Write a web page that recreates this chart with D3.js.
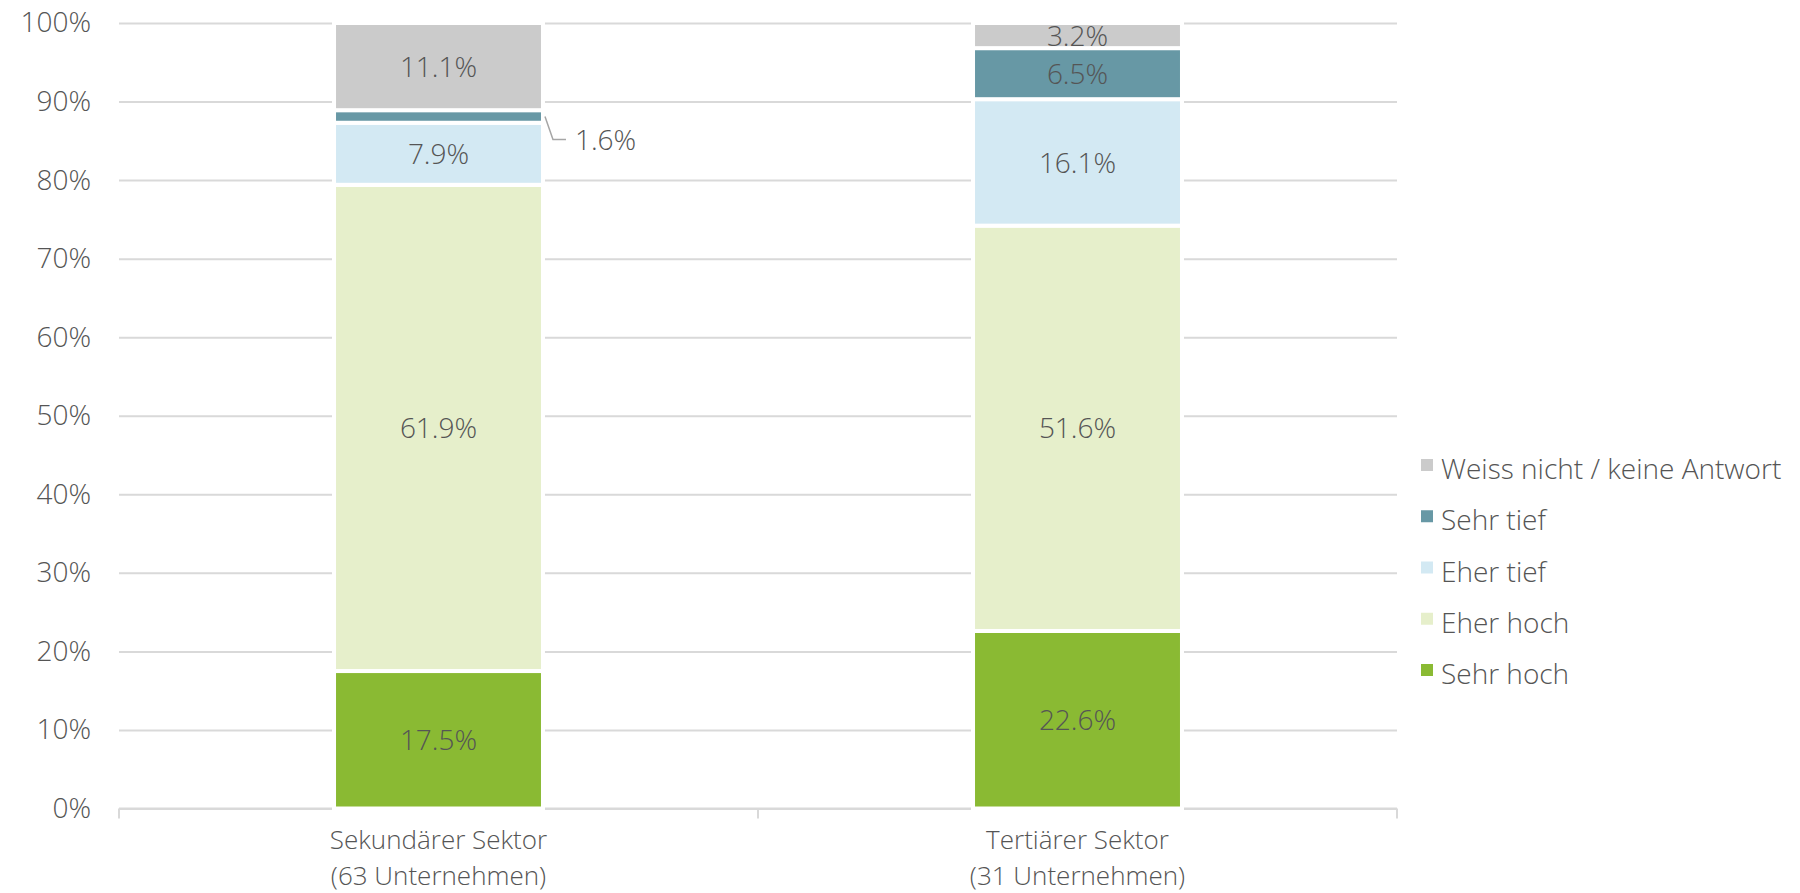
<!DOCTYPE html>
<html>
<head>
<meta charset="utf-8">
<script src="https://cdn.jsdelivr.net/npm/d3@7"></script>
<style>
  body { margin: 0; background: #fff; }
  text { font-family: "Open Sans", sans-serif; font-weight: 300; fill: #555555; }
</style>
</head>
<body>
<div id="chart"></div>
<script>
// categories (each label on two lines)
var categories = ['Sekundärer Sektor', 'Tertiärer Sektor'];
var categorySub = ['(63 Unternehmen)', '(31 Unternehmen)'];

// series, bottom to top
var seriesNames = ['Sehr hoch', 'Eher hoch', 'Eher tief', 'Sehr tief', 'Weiss nicht / keine Antwort'];
var seriesColors = ['#8aba33', '#e6efcb', '#d3e9f3', '#6798a5', '#cbcbcb'];
var sehrHoch = [17.5, 22.6];
var eherHoch = [61.9, 51.6];
var eherTief = [7.9, 16.1];
var sehrTief = [1.6, 6.5];
var weissNicht = [11.1, 3.2];

var yTicks = [0, 10, 20, 30, 40, 50, 60, 70, 80, 90, 100];

var params = {
	width: 1800,
	height: 893,
	left: 119,
	right: 1397,
	top: 23,
	bottom: 808.5,
	fontSize: '28px'
};

//build the table for d3.stack
var seriesValues = [sehrHoch, eherHoch, eherTief, sehrTief, weissNicht];
var table = categories.map(function(c, i){
	var row = {cat: c};
	seriesNames.forEach(function(s, j){ row[s] = seriesValues[j][i]; });
	return row;
});

var svg = d3.select('#chart').append('svg')
	.attr('width', params.width)
	.attr('height', params.height);

var x = d3.scaleBand()
	.domain(categories)
	.range([params.left, params.right])
	.paddingInner(0.673)
	.paddingOuter(0.3365);

var y = d3.scaleLinear()
	.domain([0, 100])
	.range([params.bottom, params.top]);

// gridlines + y labels
var yAxis = svg.append('g')
	.attr('transform', 'translate(' + params.left + ',0)')
	.call(d3.axisLeft(y).tickValues(yTicks).tickSize(-(params.right - params.left)).tickFormat(function(d){ return d + '%'; }));
yAxis.select('.domain').remove();
yAxis.selectAll('.tick line').attr('stroke', '#d9d9d9').attr('stroke-width', 2);
yAxis.selectAll('.tick text')
	.attr('x', -28)
	.style('font-size', params.fontSize)
	.attr('fill', '#555555');

// x axis with tick marks between categories
var xAxis = svg.append('g')
	.attr('transform', 'translate(0,' + params.bottom + ')');
xAxis.append('line')
	.attr('x1', params.left).attr('x2', params.right)
	.attr('stroke', '#d9d9d9').attr('stroke-width', 2);
var step = x.step();
var tickXs = [params.left].concat(categories.map(function(c){ return x(c) + x.bandwidth() / 2 + step / 2; }));
xAxis.selectAll('.sep')
	.data(tickXs)
	.enter()
	.append('line')
		.attr('x1', function(d){ return d; })
		.attr('x2', function(d){ return d; })
		.attr('y1', 0).attr('y2', 10)
		.attr('stroke', '#d9d9d9').attr('stroke-width', 2);

var catLabels = xAxis.selectAll('.cat')
	.data(categories)
	.enter()
	.append('text')
		.attr('text-anchor', 'middle')
		.attr('x', function(d){ return x(d) + x.bandwidth() / 2; })
		.style('font-size', '26px');
catLabels.append('tspan').attr('x', function(d){ return x(d) + x.bandwidth() / 2; }).attr('y', 40.5).text(function(d){ return d; });
catLabels.append('tspan').attr('x', function(d){ return x(d) + x.bandwidth() / 2; }).attr('y', 76.5).text(function(d, i){ return categorySub[i]; });

// stacked bars
var stack = d3.stack().keys(seriesNames)(table);

var layers = svg.selectAll('.layer')
	.data(stack)
	.enter()
	.append('g')
		.attr('fill', function(d, i){ return seriesColors[i]; });

layers.selectAll('rect')
	.data(function(d){ return d; })
	.enter()
	.append('rect')
		.attr('x', function(d){ return x(d.data.cat); })
		.attr('width', x.bandwidth())
		.attr('y', function(d){ return y(d[1]); })
		.attr('height', function(d){ return y(d[0]) - y(d[1]); })
		.attr('stroke', '#fff')
		.attr('stroke-width', 4);

// value labels
layers.each(function(layer){
	var g = d3.select(this);
	layer.forEach(function(d){
		var v = d[1] - d[0];
		var cx = x(d.data.cat) + x.bandwidth() / 2;
		var cy = (y(d[0]) + y(d[1])) / 2;
		if (v >= 2){
			g.append('text')
				.attr('x', cx).attr('y', cy)
				.attr('dy', '0.36em')
				.attr('text-anchor', 'middle')
				.style('font-size', params.fontSize)
				.text(v.toFixed(1) + '%');
		} else {
			//small slice: label outside with a leader line
			var xr = x(d.data.cat) + x.bandwidth();
			g.append('polyline')
				.attr('points', [[xr + 2, cy], [xr + 10, cy + 23], [xr + 23, cy + 23]].join(' '))
				.attr('fill', 'none')
				.attr('stroke', '#a6a6a6')
				.attr('stroke-width', 1.5);
			g.append('text')
				.attr('x', xr + 32).attr('y', cy + 23)
				.attr('dy', '0.36em')
				.style('font-size', params.fontSize)
				.text(v.toFixed(1) + '%');
		}
	});
});

// legend, top item is the last series
var legendItems = seriesNames.slice().reverse();
var legend = svg.append('g')
	.attr('transform', 'translate(1421,459)');
var item = legend.selectAll('.item')
	.data(legendItems)
	.enter()
	.append('g')
		.attr('transform', function(d, i){ return 'translate(0,' + (i * 51.25) + ')'; });
item.append('rect')
	.attr('width', 12).attr('height', 12)
	.attr('fill', function(d){ return seriesColors[seriesNames.indexOf(d)]; });
item.append('text')
	.attr('x', 20).attr('y', 10)
	.attr('dy', '0.36em')
	.style('font-size', params.fontSize)
	.text(function(d){ return d; });
</script>
</body>
</html>
